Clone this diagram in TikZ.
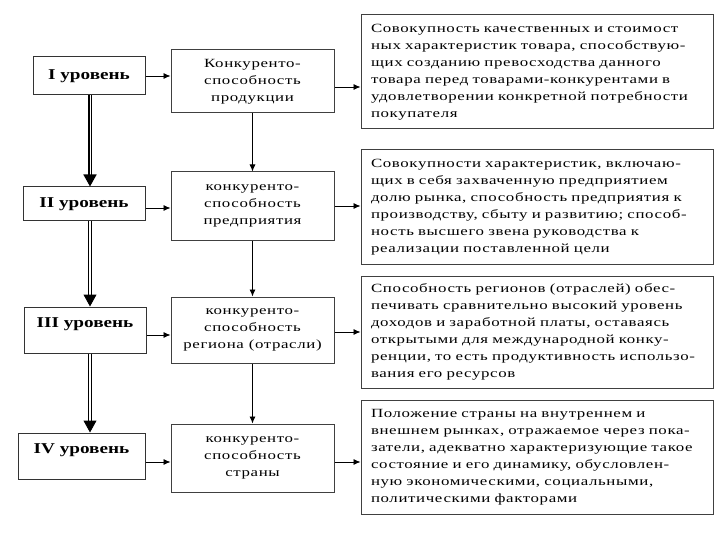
\documentclass[tikz,border=0pt]{standalone}
\usepackage{fontspec}
\setmainfont{Liberation Serif}
\newfontfamily\bodyf{Liberation Serif}[FakeStretch=1.35,LetterSpace=5]
\newfontfamily\levf{Liberation Serif}[FakeStretch=1.28]
\usetikzlibrary{arrows.meta}
\tikzset{
  lev/.style={draw=black!80, line width=1pt, font=\levf\fontsize{15}{17}\selectfont\bfseries, inner sep=0pt},
  mid/.style={draw=black!75, line width=1pt, font=\bodyf\fontsize{12.5}{17}\selectfont, align=center, inner sep=0pt},
  desc/.style={draw=black!75, line width=1pt, font=\bodyf\fontsize{12.5}{17}\selectfont, align=left, text width=332pt, inner sep=0pt, minimum width=352pt},
  harrow/.style={line width=0.8pt, -{Latex[length=7pt,width=6pt]}},
  varrow/.style={line width=0.8pt, -{Latex[length=7pt,width=6pt]}},
  dblarrow/.style={double=white, double distance=2.5pt, line width=1pt, -{Triangle[length=12pt,width=13pt]}},
}
\begin{document}
\begin{tikzpicture}[x=1pt,y=-1pt]
\useasboundingbox (0,0) rectangle (720,540);
% level boxes
\node[lev, minimum width=112pt, minimum height=38pt] (l1) at (89,76) {I уровень};
\node[lev, minimum width=122pt, minimum height=34pt] (l2) at (84,204) {II уровень};
\node[lev, minimum width=122pt, minimum height=46pt, text depth=14pt] (l3) at (85,330) {III уровень};
\node[lev, minimum width=127pt, minimum height=46pt, text depth=14pt] (l4) at (81.5,456) {IV уровень};
% middle boxes
\node[mid, minimum width=163pt, minimum height=63pt] (m1) at (252.5,81.5) {Конкуренто-\\способность\\продукции};
\node[mid, minimum width=163pt, minimum height=68pt] (m2) at (252.5,206) {конкуренто-\\способность\\предприятия};
\node[mid, minimum width=163pt, minimum height=66pt] (m3) at (252.5,330) {конкуренто-\\способность\\региона (отрасли)};
\node[mid, minimum width=163pt, minimum height=68pt] (m4) at (252.5,458) {конкуренто-\\способность\\страны};
% description boxes
\node[desc, minimum height=114pt] (r1) at (537,72) {Совокупность качественных и стоимост\\ных характеристик товара, способствую-\\щих созданию превосходства данного\\товара перед товарами-конкурентами в\\удовлетворении конкретной потребности\\покупателя};
\node[desc, minimum height=114pt] (r2) at (537,207) {Совокупности характеристик, включаю-\\щих в себя захваченную предприятием\\долю рынка, способность предприятия к\\производству, сбыту и развитию; способ-\\ность высшего звена руководства к\\реализации поставленной цели};
\node[desc, minimum height=112pt] (r3) at (537,332) {Способность регионов (отраслей) обес-\\печивать сравнительно высокий уровень\\доходов и заработной платы, оставаясь\\открытыми для международной конку-\\ренции, то есть продуктивность использо-\\вания его ресурсов};
\node[desc, minimum height=114pt] (r4) at (537,457) {Положение страны на внутреннем и\\внешнем рынках, отражаемое через пока-\\затели, адекватно характеризующие такое\\состояние и его динамику, обусловлен-\\ную экономическими, социальными,\\политическими факторами};
% x of double arrows
\coordinate (dx) at (90,0);
% double arrows between levels
\draw[dblarrow, line width=1.6pt, double distance=1pt] (l1.south -| dx) -- (l2.north -| dx);
\draw[dblarrow] (l2.south -| dx) -- (l3.north -| dx);
\draw[dblarrow] (l3.south -| dx) -- (l4.north -| dx);
% level -> middle
\draw[harrow] (l1.east) -- (l1.east -| m1.west);
\draw[harrow] ([yshift=-4pt]l2.east) -- ([yshift=-4pt]l2.east -| m2.west);
\draw[harrow] ([yshift=-5pt]l3.east) -- ([yshift=-5pt]l3.east -| m3.west);
\draw[harrow] ([yshift=-6pt]l4.east) -- ([yshift=-6pt]l4.east -| m4.west);
% middle -> middle
\draw[varrow] (m1.south) -- (m2.north);
\draw[varrow] (m2.south) -- (m3.north);
\draw[varrow] (m3.south) -- (m4.north);
% middle -> description
\draw[harrow] ([yshift=-5.5pt]m1.east) -- ([yshift=-5.5pt]m1.east -| r1.west);
\draw[harrow] (m2.east) -- (m2.east -| r2.west);
\draw[harrow] ([yshift=-2pt]m3.east) -- ([yshift=-2pt]m3.east -| r3.west);
\draw[harrow] ([yshift=-4pt]m4.east) -- ([yshift=-4pt]m4.east -| r4.west);
\end{tikzpicture}
\end{document}
